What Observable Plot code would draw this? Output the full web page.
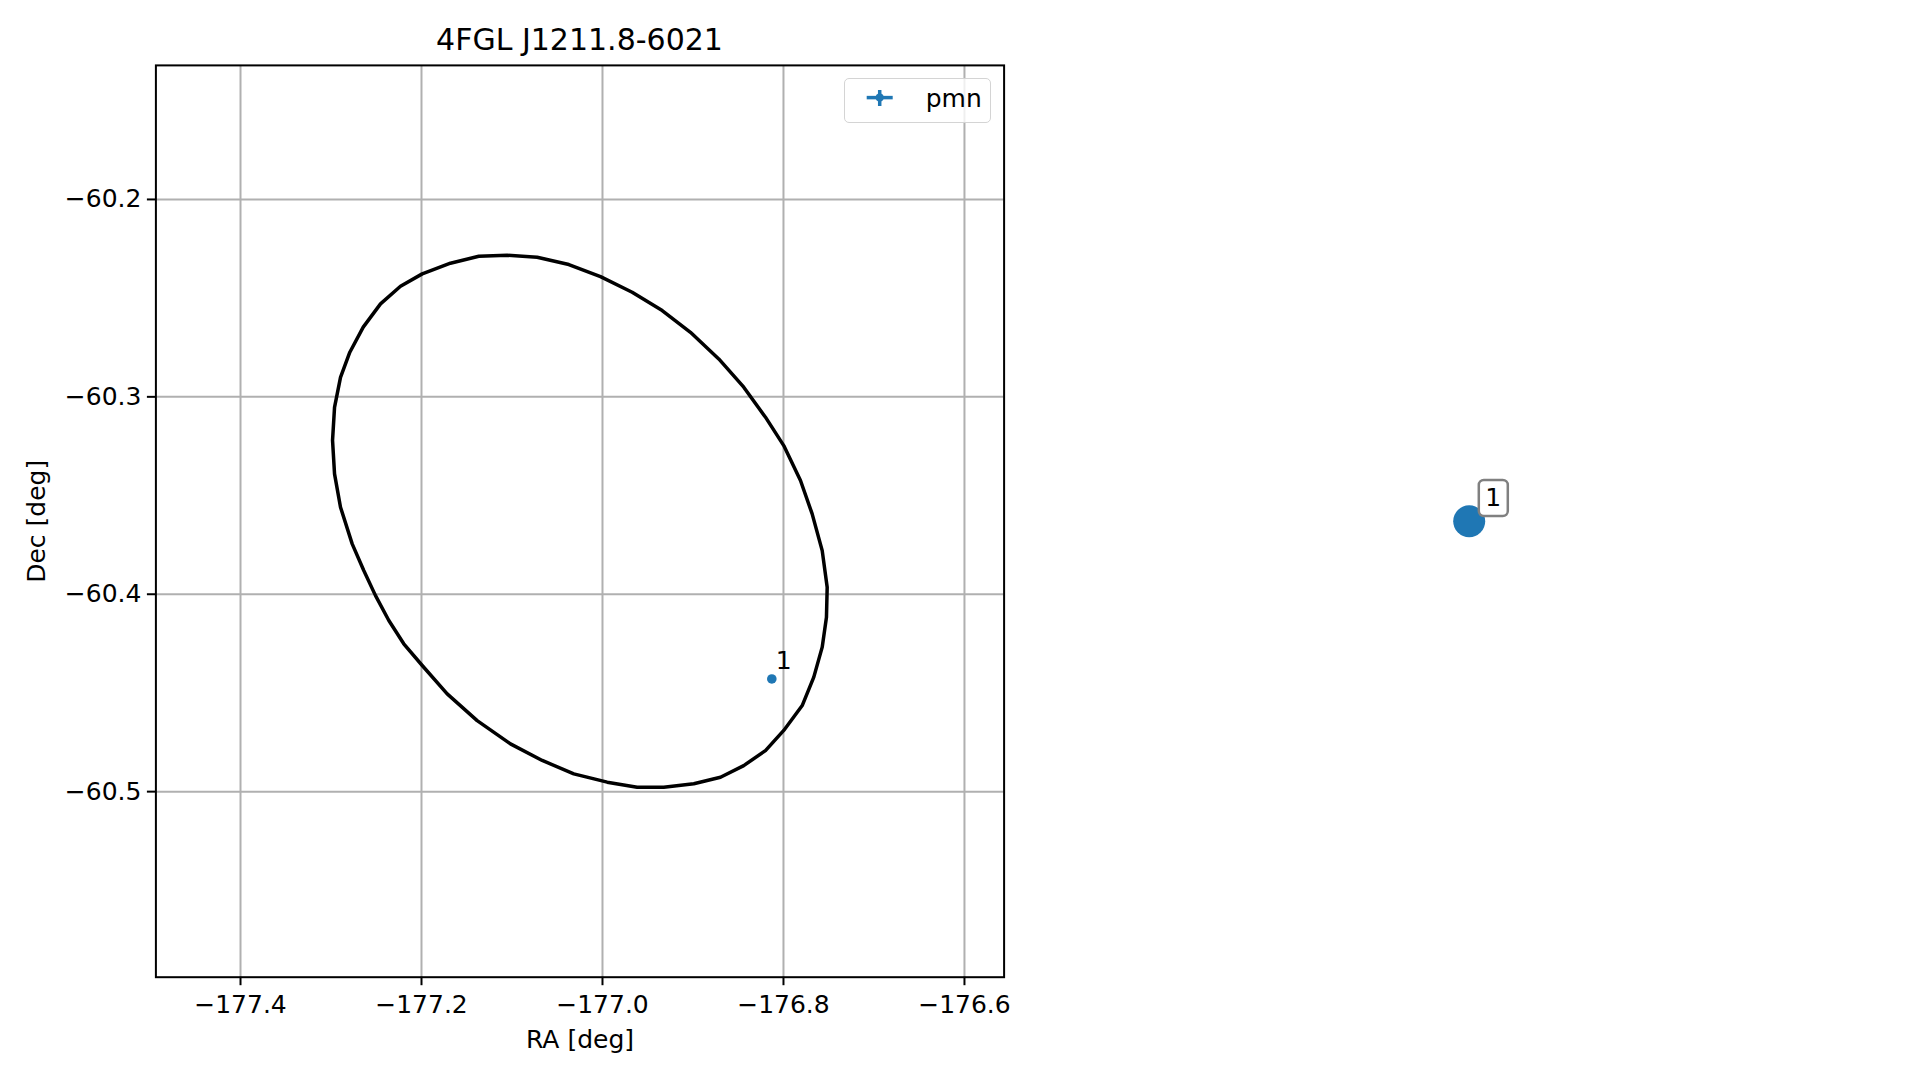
<!DOCTYPE html>
<html>
<head>
<meta charset="utf-8">
<script src="https://cdn.jsdelivr.net/npm/d3@7"></script>
<script src="https://cdn.jsdelivr.net/npm/@observablehq/plot@0.6"></script>
<style>
  html, body { margin: 0; padding: 0; background: #fff; }
  #fig { position: relative; width: 1919px; height: 1080px; overflow: hidden;
         font-family: "DejaVu Sans", sans-serif; color: #000; background: #fff; }
  #fig > svg { position: absolute; left: 0; top: 0; }
  #title { position: absolute; left: 155.4px; width: 848.2px; top: 22px; text-align: center;
           font-size: 30px; line-height: 36px; white-space: nowrap; }
  #legend { position: absolute; left: 844px; top: 78px; width: 147px; height: 44.5px; box-sizing: border-box;
            border: 1.5px solid #d4d4d4; border-radius: 5px; background: rgba(255,255,255,0.8); }
  #legend svg { position: absolute; left: -1.5px; top: -1.5px; overflow: visible; }
</style>
</head>
<body>
<div id="fig">
  <div id="title"></div>
  <div id="legend"></div>
</div>
<script>
// ---------- data ----------
const titleText = "4FGL J1211.8-6021";
const xLabel = "RA [deg]";
const yLabel = "Dec [deg]";
const legendLabel = "pmn";

// error-ellipse vertices
const ellipseRA = [
  -177.1053, -177.0722, -177.0372, -177.0022, -176.9672, -176.9340, -176.9028, -176.8715,
  -176.8439, -176.8199, -176.7997, -176.7812, -176.7683, -176.7572, -176.7517, -176.7525,
  -176.7572, -176.7665, -176.7793, -176.7997, -176.8199, -176.8439, -176.8696, -176.8991,
  -176.9323, -176.9617, -176.9948, -177.0317, -177.0666, -177.1017, -177.1385, -177.1716,
  -177.1992, -177.2196, -177.2361, -177.2508, -177.2638, -177.2766, -177.2895, -177.2961,
  -177.2983, -177.2961, -177.2895, -177.2792, -177.2644, -177.2453, -177.2232, -177.1992,
  -177.1680, -177.1367
];
const ellipseDec = [
  -60.2283, -60.2293, -60.2330, -60.2391, -60.2470, -60.2563, -60.2673, -60.2808,
  -60.2951, -60.3103, -60.3247, -60.3424, -60.3593, -60.3779, -60.3965, -60.4117,
  -60.4268, -60.4420, -60.4564, -60.4690, -60.4792, -60.4868, -60.4927, -60.4960,
  -60.4978, -60.4978, -60.4952, -60.4910, -60.4842, -60.4758, -60.4640, -60.4505,
  -60.4361, -60.4251, -60.4133, -60.4007, -60.3880, -60.3745, -60.3559, -60.3390,
  -60.3221, -60.3053, -60.2901, -60.2774, -60.2647, -60.2529, -60.2440, -60.2377,
  -60.2323, -60.2288
];

// candidate source(s)
const srcRA = [-176.8129];
const srcDec = [-60.4429];
const srcLabel = ["1"];

// axes
const xTicks = [-177.4, -177.2, -177.0, -176.8, -176.6];
const yTicks = [-60.2, -60.3, -60.4, -60.5];
const xLimits = [-177.4935, -176.5562];
const yLimits = [-60.5940, -60.1321];

// ---------- build ----------
const blue = "#1f77b4";
const fmt = d3.format(".1f");
const ellipse = ellipseRA.map((ra, i) => ({ra, dec: ellipseDec[i]}));
const sources = srcRA.map((ra, i) => ({ra, dec: srcDec[i], label: srcLabel[i]}));

const W = 1919, H = 1080;
const frameL = 155.4, frameR = 1003.6, frameT = 64.9, frameB = 976.7;
const FS = 25;

const main = Plot.plot({
  width: W, height: H,
  marginLeft: frameL, marginRight: W - frameR, marginTop: frameT, marginBottom: H - frameB,
  style: {fontFamily: "DejaVu Sans, sans-serif", fontSize: FS + "px", color: "#000", background: "white", overflow: "visible"},
  x: {domain: xLimits},
  y: {domain: yLimits},
  marks: [
    Plot.gridX(xTicks, {stroke: "#b0b0b0", strokeOpacity: 1, strokeWidth: 2}),
    Plot.gridY(yTicks, {stroke: "#b0b0b0", strokeOpacity: 1, strokeWidth: 2}),
    Plot.line(ellipse, {x: "ra", y: "dec", curve: "linear-closed", stroke: "black", strokeWidth: 3.5}),
    Plot.dot(sources, {x: "ra", y: "dec", r: 4.8, fill: blue}),
    Plot.text(sources, {x: "ra", y: "dec", text: "label", dx: 12, dy: -18, fontSize: FS, fill: "black"}),
    Plot.axisX({ticks: xTicks, tickFormat: fmt, tickSize: 8.5, tickPadding: 10, strokeWidth: 2, label: null, fontSize: FS}),
    Plot.axisY({ticks: yTicks, tickFormat: fmt, tickSize: 8.5, tickPadding: 6, strokeWidth: 2, label: null, fontSize: FS}),
    Plot.text([xLabel], {text: d => d, frameAnchor: "bottom", dy: 63, textAnchor: "middle", lineAnchor: "middle", fontSize: FS, fill: "black"}),
    Plot.text([yLabel], {text: d => d, frameAnchor: "left", dx: -118.7, rotate: -90, textAnchor: "middle", lineAnchor: "middle", fontSize: FS, fill: "black"}),
    Plot.frame({stroke: "black", strokeWidth: 2})
  ]
});

// rounded label box symbol (size ignored)
const roundBox = {
  draw(ctx) {
    const w = 29, h = 36, r = 5;
    const x0 = -w / 2, y0 = -h / 2, x1 = w / 2, y1 = h / 2;
    ctx.moveTo(x0 + r, y0);
    ctx.lineTo(x1 - r, y0); ctx.arcTo(x1, y0, x1, y0 + r, r);
    ctx.lineTo(x1, y1 - r); ctx.arcTo(x1, y1, x1 - r, y1, r);
    ctx.lineTo(x0 + r, y1); ctx.arcTo(x0, y1, x0, y1 - r, r);
    ctx.lineTo(x0, y0 + r); ctx.arcTo(x0, y0, x0 + r, y0, r);
    ctx.closePath();
  }
};

// right-hand panel (axes hidden), centred on the source
const rL = 1044.7, rR = 1892.7;
const side = Plot.plot({
  width: W, height: H,
  marginLeft: rL, marginRight: W - rR, marginTop: frameT, marginBottom: H - frameB,
  style: {fontFamily: "DejaVu Sans, sans-serif", fontSize: FS + "px", color: "#000", background: "transparent", overflow: "visible"},
  x: {domain: [srcRA[0] - 0.05, srcRA[0] + 0.05], axis: null},
  y: {domain: [srcDec[0] - 0.05, srcDec[0] + 0.05], axis: null},
  marks: [
    Plot.dot(sources, {x: "ra", y: "dec", r: 16, fill: blue}),
    Plot.dot(sources, {x: "ra", y: "dec", symbol: roundBox, r: 10, fill: "white", stroke: "#808080", strokeWidth: 2.5, dx: 24.1, dy: -23.3}),
    Plot.text(sources, {x: "ra", y: "dec", text: "label", dx: 24.1, dy: -23.3, fontSize: FS, fill: "black", lineAnchor: "middle"})
  ]
});

const fig = document.getElementById("fig");
fig.insertBefore(main, fig.firstChild);
fig.insertBefore(side, main.nextSibling);
document.getElementById("title").textContent = titleText;

// legend (errorbar marker + label)
const legend = document.getElementById("legend");
const ns = "http://www.w3.org/2000/svg";
const lsvg = document.createElementNS(ns, "svg");
lsvg.setAttribute("width", 147); lsvg.setAttribute("height", 45);
lsvg.innerHTML =
  `<line x1="22.7" x2="48.7" y1="19.6" y2="19.6" stroke="${blue}" stroke-width="3.5"/>` +
  `<line x1="35.7" x2="35.7" y1="12" y2="28" stroke="${blue}" stroke-width="3.5"/>` +
  `<circle cx="35.7" cy="19.6" r="4" fill="${blue}"/>`;
const lt = document.createElementNS(ns, "text");
lt.setAttribute("x", 81.7); lt.setAttribute("y", 28.6);
lt.setAttribute("font-family", "DejaVu Sans, sans-serif");
lt.setAttribute("font-size", FS);
lt.textContent = legendLabel;
lsvg.appendChild(lt);
legend.appendChild(lsvg);
</script>
</body>
</html>
